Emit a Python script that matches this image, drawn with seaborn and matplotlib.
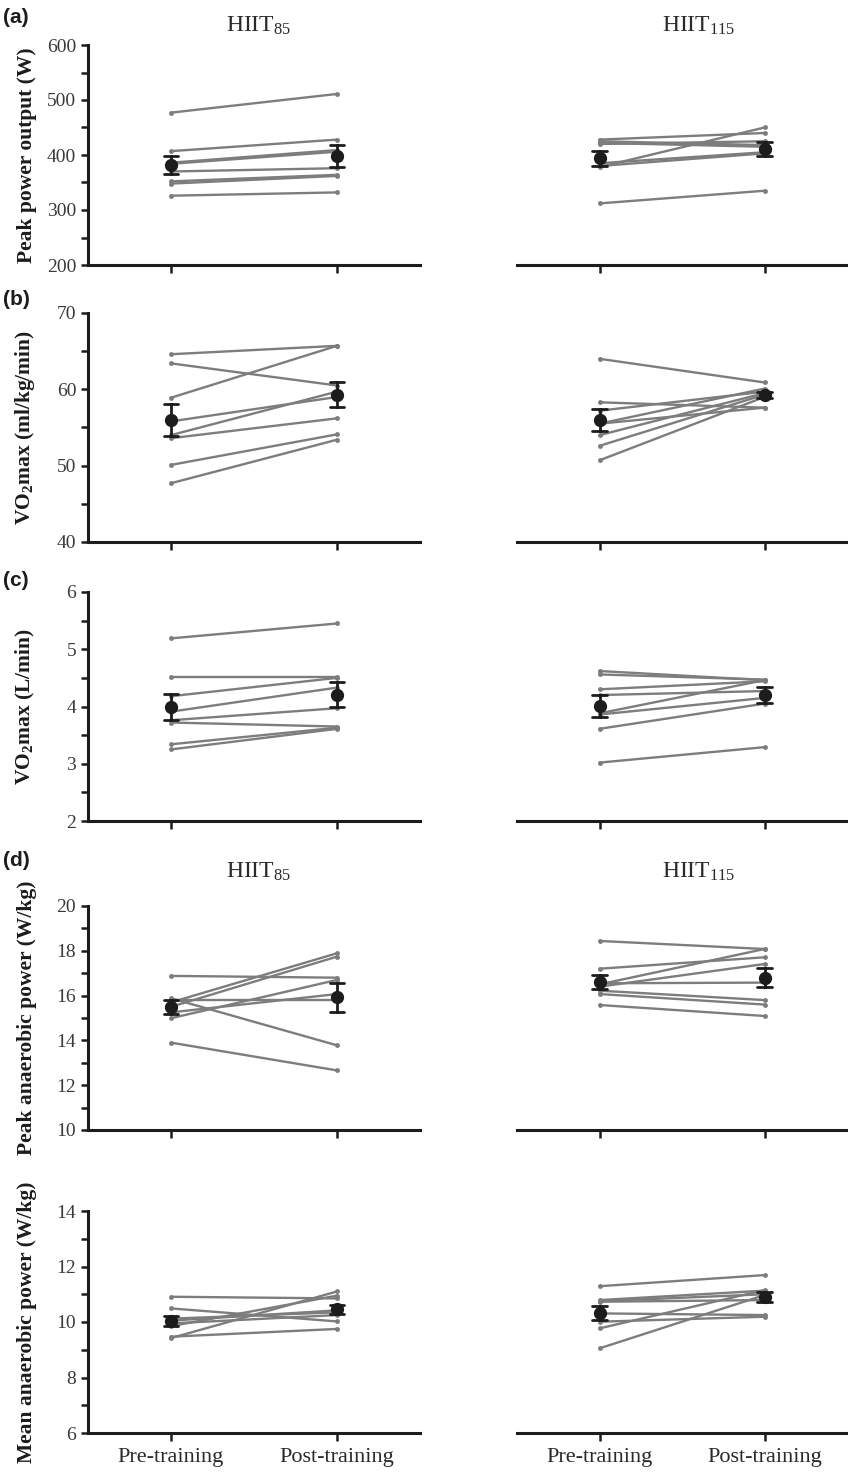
import pandas as pd
import matplotlib.pyplot as plt
from matplotlib.ticker import MultipleLocator
import seaborn as sns

# individual subject values (8 per group)
times = ['Pre-training', 'Post-training']

ppo_h85_pre = [477, 407, 386, 384, 370, 352, 348, 326]
ppo_h85_post = [511, 428, 409, 406, 376, 364, 362, 332]
ppo_h115_pre = [428, 425, 422, 420, 385, 380, 378, 312]
ppo_h115_post = [440, 418, 415, 425, 405, 403, 450, 335]

vo2rel_h85_pre = [64.6, 63.4, 58.9, 55.8, 54.0, 53.6, 50.1, 47.7]
vo2rel_h85_post = [65.7, 60.5, 65.7, 59.0, 59.7, 56.2, 54.1, 53.4]
vo2rel_h115_pre = [64.0, 58.3, 57.2, 55.5, 55.5, 54.0, 52.6, 50.7]
vo2rel_h115_post = [60.9, 57.6, 59.7, 57.6, 60.1, 59.5, 59.3, 59.0]

vo2abs_h85_pre = [5.19, 4.52, 4.18, 3.91, 3.76, 3.72, 3.34, 3.25]
vo2abs_h85_post = [5.45, 4.52, 4.50, 4.33, 3.97, 3.65, 3.63, 3.61]
vo2abs_h115_pre = [4.62, 4.56, 4.30, 4.20, 3.88, 3.86, 3.61, 3.02]
vo2abs_h115_post = [4.46, 4.47, 4.44, 4.27, 4.46, 4.15, 4.05, 3.29]

pap_h85_pre = [16.88, 15.88, 15.70, 15.50, 15.80, 15.25, 14.99, 13.90]
pap_h85_post = [16.80, 13.78, 17.89, 17.74, 15.80, 16.07, 16.70, 12.66]
pap_h115_pre = [18.44, 17.20, 16.50, 16.40, 16.55, 16.22, 16.07, 15.58]
pap_h115_post = [18.08, 17.71, 18.08, 17.41, 16.58, 15.80, 15.60, 15.09]

map_h85_pre = [10.91, 10.49, 10.12, 10.05, 9.95, 9.85, 9.47, 9.42]
map_h85_post = [10.85, 10.02, 10.35, 10.42, 10.25, 10.95, 9.75, 11.10]
map_h115_pre = [11.29, 10.79, 10.75, 10.73, 10.31, 10.01, 9.77, 9.05]
map_h115_post = [11.69, 11.13, 11.00, 10.79, 10.25, 10.19, 11.15, 10.97]

row_labels = ['Peak power output (W)',
              r'VO$_\mathbf{2}$max (ml/kg/min)',
              r'VO$_\mathbf{2}$max (L/min)',
              'Peak anaerobic power (W/kg)',
              'Mean anaerobic power (W/kg)']
row_ylims = [(200, 600), (40, 70), (2, 6), (10, 20), (6, 14)]
row_steps = [100, 10, 1, 2, 2]

sns.set_theme(style='ticks')
plt.rcParams['font.family'] = ['Liberation Serif', 'DejaVu Serif']
plt.rcParams['mathtext.fontset'] = 'custom'
plt.rcParams['mathtext.rm'] = 'Liberation Serif'
plt.rcParams['mathtext.it'] = 'Liberation Serif:italic'
plt.rcParams['mathtext.bf'] = 'Liberation Serif:bold'

GREY = '#7d7d7d'
INK = '#1c1c1c'


def long_form(pre, post):
    n = len(pre)
    return pd.DataFrame({'subject': list(range(n)) * 2,
                         'time': [times[0]] * n + [times[1]] * n,
                         'value': list(pre) + list(post)})


def draw_panel(ax, pre, post, ylim, step, ylabel, left_col, bottom_row):
    df = long_form(pre, post)
    sns.lineplot(data=df, x='time', y='value', units='subject', estimator=None,
                 sort=False, color=GREY, linewidth=1.7, marker='o',
                 markersize=3.5, markeredgewidth=0, ax=ax)
    sns.pointplot(data=df, x='time', y='value', order=times, errorbar='se',
                  color=INK, linestyle='none', marker='o', markersize=7.5,
                  capsize=0.085, err_kws={'linewidth': 2}, ax=ax)
    ax.set_xlim(-0.5, 1.5)
    ax.set_ylim(*ylim)
    ax.set_xticks([0, 1])
    ax.set_xticklabels(times if bottom_row else ['', ''])
    ax.set_xlabel('')
    ax.yaxis.set_major_locator(MultipleLocator(step))
    ax.yaxis.set_minor_locator(MultipleLocator(step / 2))
    for s in ['top', 'right']:
        ax.spines[s].set_visible(False)
    for s in ['left', 'bottom']:
        ax.spines[s].set_linewidth(2.2)
        ax.spines[s].set_color(INK)
    ax.tick_params(axis='both', which='both', direction='out', length=5,
                   width=1.8, color=INK, labelsize=14, labelcolor='#3a3a3a')
    ax.tick_params(axis='x', length=6, pad=5, labelsize=16, labelcolor='#2a2a2a')
    if left_col:
        ax.set_ylabel(ylabel, fontsize=15.5, fontweight='bold', color=INK)
        ax.yaxis.set_label_coords(-0.155, 0.5)
    else:
        ax.set_ylabel('')
        ax.spines['left'].set_visible(False)
        ax.tick_params(axis='y', which='both', left=False, labelleft=False)


fig = plt.figure(figsize=(8.48, 14.72), dpi=100)
H = 1472.0
# (top px, bottom px) of each row
rows_px = [(45, 265), (313, 542), (592, 821), (906, 1130), (1211, 1433)]
data_rows = [(ppo_h85_pre, ppo_h85_post, ppo_h115_pre, ppo_h115_post),
             (vo2rel_h85_pre, vo2rel_h85_post, vo2rel_h115_pre, vo2rel_h115_post),
             (vo2abs_h85_pre, vo2abs_h85_post, vo2abs_h115_pre, vo2abs_h115_post),
             (pap_h85_pre, pap_h85_post, pap_h115_pre, pap_h115_post),
             (map_h85_pre, map_h85_post, map_h115_pre, map_h115_post)]

for i, (top, bot) in enumerate(rows_px):
    b = 1 - bot / H
    h = (bot - top) / H
    ax_l = fig.add_axes([88 / 848, b, 332 / 848, h])
    ax_r = fig.add_axes([517 / 848, b, 330 / 848, h])
    p85, q85, p115, q115 = data_rows[i]
    last = i == len(rows_px) - 1
    draw_panel(ax_l, p85, q85, row_ylims[i], row_steps[i], row_labels[i], True, last)
    draw_panel(ax_r, p115, q115, row_ylims[i], row_steps[i], row_labels[i], False, last)

# group titles
for y_px in [32, 878]:
    fig.text(258 / 848, 1 - y_px / H, r'HIIT$_{85}$', ha='center', va='baseline',
             fontsize=17, color='#2a2a2a')
    fig.text(699 / 848, 1 - y_px / H, r'HIIT$_{115}$', ha='center', va='baseline',
             fontsize=17, color='#2a2a2a')

# panel letters
for lab, y_px in zip(['(a)', '(b)', '(c)', '(d)'], [8, 290, 571, 851]):
    fig.text(3 / 848, 1 - y_px / H, lab, ha='left', va='top', fontsize=15,
             fontweight='bold', family=['Liberation Sans', 'DejaVu Sans'], color=INK)

fig.savefig('out.png', dpi=100)
